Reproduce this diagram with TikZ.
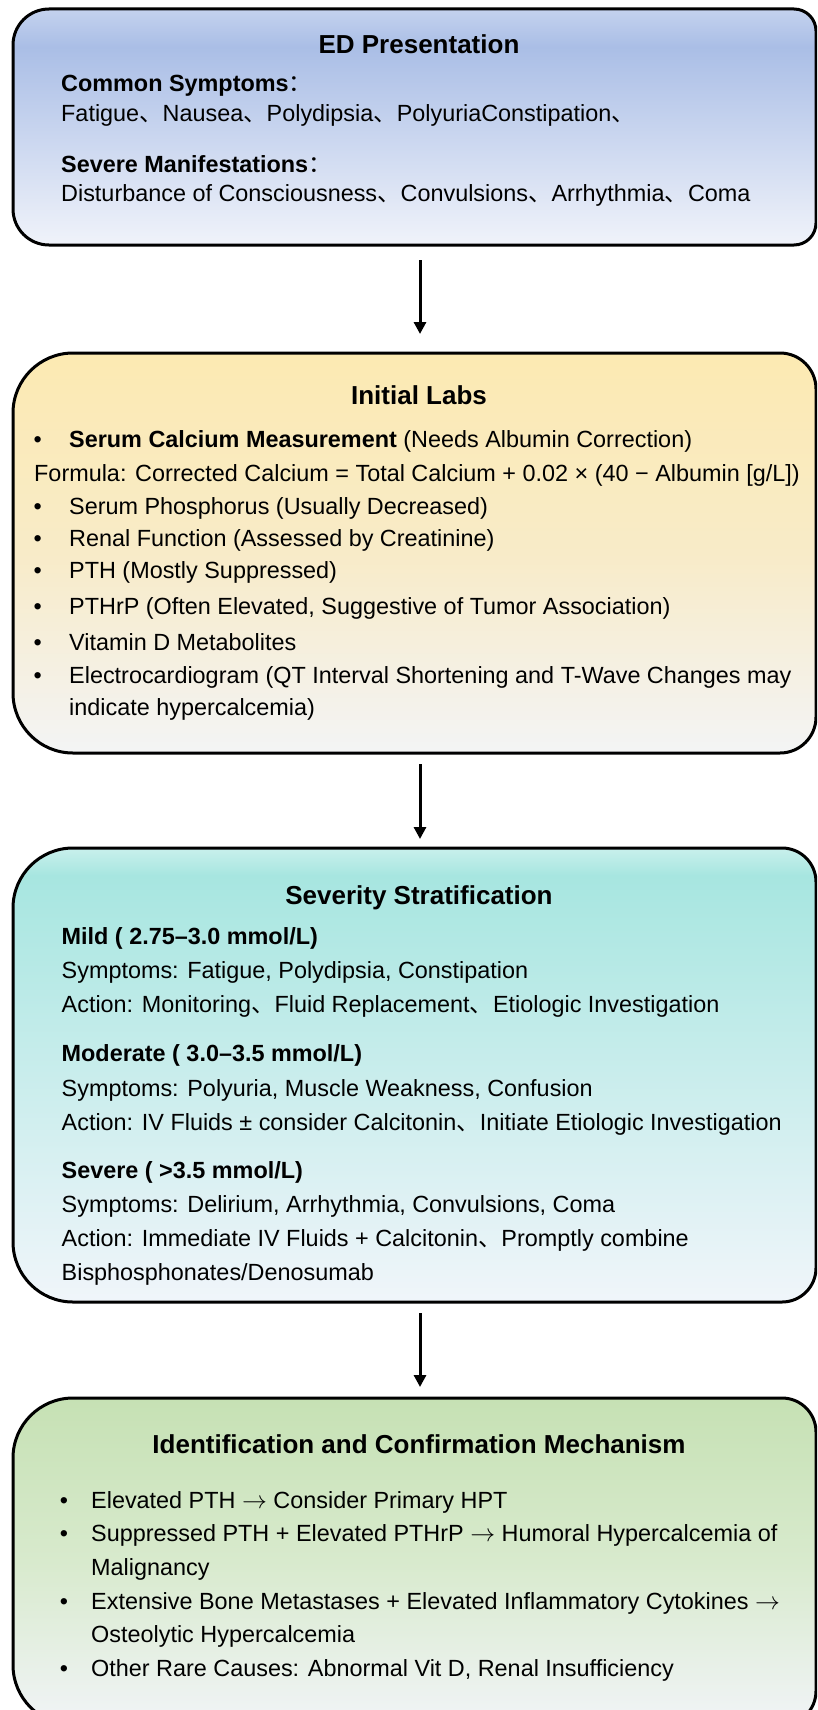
\documentclass[tikz,border=0pt]{standalone}
\usepackage{fontspec}
\setmainfont{Liberation Sans}
\newfontfamily\cjk{Noto Sans CJK SC}
\usetikzlibrary{arrows.meta}
\newcommand\dun{{\cjk\mdseries 、}}
\newcommand\fcolon{{\cjk\mdseries ：}}
\newcommand\rarr{$\rightarrow$}
\definecolor{aTop}{HTML}{C4D2EE}
\definecolor{aMid}{HTML}{AABEE6}
\definecolor{aBot}{HTML}{F0F3FA}
\definecolor{bTop}{HTML}{FCEAB2}
\definecolor{bMid}{HTML}{F8EBC8}
\definecolor{bBot}{HTML}{F3F4F5}
\definecolor{cTop}{HTML}{C9F0EC}
\definecolor{cMid}{HTML}{A7E6E0}
\definecolor{cBot}{HTML}{F0F5FA}
\definecolor{dTop}{HTML}{C6E1B4}
\definecolor{dMid}{HTML}{D8EACD}
\definecolor{dBot}{HTML}{F1F4F7}
\pgfdeclareverticalshading{shA}{100bp}{color(0bp)=(aBot); color(25bp)=(aBot); color(67bp)=(aMid); color(75bp)=(aTop); color(100bp)=(aTop)}
\pgfdeclareverticalshading{shB}{100bp}{color(0bp)=(bBot); color(25bp)=(bBot); color(50bp)=(bMid); color(75bp)=(bTop); color(100bp)=(bTop)}
\pgfdeclareverticalshading{shC}{100bp}{color(0bp)=(cBot); color(25bp)=(cBot); color(72bp)=(cMid); color(75bp)=(cTop); color(100bp)=(cTop)}
\pgfdeclareverticalshading{shD}{100bp}{color(0bp)=(dBot); color(25bp)=(dBot); color(50bp)=(dMid); color(75bp)=(dTop); color(100bp)=(dTop)}
% #1 L, #2 R, #3 T, #4 B, #5 left radius, #6 right radius, #7 shading
\newcommand\rbox[7]{%
  \draw[bx, shading=#7] ({#1+#5},{-#3}) -- ({#2-#6},{-#3})
    arc[start angle=90,end angle=0,radius=#6] -- ({#2},{-#4+#6})
    arc[start angle=0,end angle=-90,radius=#6] -- ({#1+#5},{-#4})
    arc[start angle=270,end angle=180,radius=#5] -- ({#1},{-#3-#5})
    arc[start angle=180,end angle=90,radius=#5] -- cycle;}
\tikzset{
  tx/.style={anchor=base west, inner sep=0pt, font=\fontsize{23.4}{27}\selectfont},
  ttl/.style={anchor=base, inner sep=0pt, font=\fontsize{26}{30}\selectfont\bfseries},
  bx/.style={line width=3pt, draw=black},
  arr/.style={line width=3pt, -{Triangle[length=12pt,width=12pt]}},
  frame/.style={inner sep=0pt, outer sep=0pt, minimum width=803pt}
}
\begin{document}
\begin{tikzpicture}[x=1pt,y=1pt]
\useasboundingbox (0,0) rectangle (817,-1710);
\clip (0,0) rectangle (817,-1710);
\fill[white] (0,0) rectangle (817,-1710);

% boxes
\rbox{13}{816}{9}{245}{36}{22}{shA}
\rbox{13}{816}{353}{753}{60}{36}{shB}
\rbox{13}{816}{848}{1302}{60}{34}{shC}
\rbox{13}{816}{1398}{1725}{60}{34}{shD}

\node[frame, minimum height=236pt] (b1) at (414.5,-127) {};
\node[frame, minimum height=400pt] (b2) at (414.5,-553) {};
\node[frame, minimum height=454pt] (b3) at (414.5,-1075) {};
\node[frame, minimum height=327pt] (b4) at (414.5,-1561.5) {};

% arrows
\draw[arr] ([xshift=5.5pt,yshift=-15pt]b1.south) -- ([xshift=5.5pt,yshift=19pt]b2.north);
\draw[arr] ([xshift=5.5pt,yshift=-11pt]b2.south) -- ([xshift=5.5pt,yshift=9pt]b3.north);
\draw[arr] ([xshift=5.5pt,yshift=-11pt]b3.south) -- ([xshift=5.5pt,yshift=11pt]b4.north);

% box 1
\node[ttl] (t1) at (419,-53) {ED Presentation};
\node[tx] (a1) at (61,-91) {\bfseries Common Symptoms\fcolon};
\node[tx] (a2) at (61,-121) {Fatigue\dun Nausea\dun Polydipsia\dun PolyuriaConstipation\dun};
\node[tx] (a3) at (61,-172) {\bfseries Severe Manifestations\fcolon};
\node[tx] (a4) at (61,-201) {Disturbance of Consciousness\dun Convulsions\dun Arrhythmia\dun Coma};

% box 2
\node[ttl] (t2) at (419,-404) {Initial Labs};
\node[tx] (p1) at (33.5,-447) {•};
\node[tx] (l1) at (69,-447) {\textbf{Serum Calcium Measurement} (Needs Albumin Correction)};
\node[tx] (l2) at (34,-481) {Formula: Corrected Calcium = Total Calcium + 0.02 × (40 − Albumin [g/L])};
\node[tx] (p3) at (33.5,-514) {•};
\node[tx] (l3) at (69,-514) {Serum Phosphorus (Usually Decreased)};
\node[tx] (p4) at (33.5,-546) {•};
\node[tx] (l4) at (69,-546) {Renal Function (Assessed by Creatinine)};
\node[tx] (p5) at (33.5,-578) {•};
\node[tx] (l5) at (69,-578) {PTH (Mostly Suppressed)};
\node[tx] (p6) at (33.5,-614) {•};
\node[tx] (l6) at (69,-614) {PTHrP (Often Elevated, Suggestive of Tumor Association)};
\node[tx] (p7) at (33.5,-650) {•};
\node[tx] (l7) at (69,-650) {Vitamin D Metabolites};
\node[tx] (p8) at (33.5,-683) {•};
\node[tx] (l8) at (69,-683) {Electrocardiogram (QT Interval Shortening and T-Wave Changes may};
\node[tx] (l9) at (69,-715) {indicate hypercalcemia)};

% box 3
\node[ttl] (t3) at (419,-904) {Severity Stratification};
\node[tx] (s1) at (61.5,-944) {\bfseries Mild ( 2.75–3.0 mmol/L)};
\node[tx] (s2) at (61.5,-978) {Symptoms: Fatigue, Polydipsia, Constipation};
\node[tx] (s3) at (61.5,-1012) {Action: Monitoring\dun Fluid Replacement\dun Etiologic Investigation};
\node[tx] (s4) at (61.5,-1061) {\bfseries Moderate ( 3.0–3.5 mmol/L)};
\node[tx] (s5) at (61.5,-1096) {Symptoms: Polyuria, Muscle Weakness, Confusion};
\node[tx] (s6) at (61.5,-1130) {Action: IV Fluids ± consider Calcitonin\dun Initiate Etiologic Investigation};
\node[tx] (s7) at (61.5,-1178) {\bfseries Severe ( >3.5 mmol/L)};
\node[tx] (s8) at (61.5,-1212) {Symptoms: Delirium, Arrhythmia, Convulsions, Coma};
\node[tx] (s9) at (61.5,-1246) {Action: Immediate IV Fluids + Calcitonin\dun Promptly combine};
\node[tx] (s10) at (61.5,-1280) {Bisphosphonates/Denosumab};

% box 4
\node[ttl] (t4) at (419,-1453) {Identification and Confirmation Mechanism};
\node[tx] (q1) at (59.6,-1508) {•};
\node[tx] (m1) at (91,-1508) {Elevated PTH \rarr\ Consider Primary HPT};
\node[tx] (q2) at (59.6,-1541) {•};
\node[tx] (m2) at (91,-1541) {Suppressed PTH + Elevated PTHrP \rarr\ Humoral Hypercalcemia of};
\node[tx] (m3) at (91,-1575) {Malignancy};
\node[tx] (q4) at (59.6,-1609) {•};
\node[tx] (m4) at (91,-1609) {Extensive Bone Metastases + Elevated Inflammatory Cytokines \rarr};
\node[tx] (m5) at (91,-1642) {Osteolytic Hypercalcemia};
\node[tx] (q6) at (59.6,-1676) {•};
\node[tx] (m6) at (91,-1676) {Other Rare Causes: Abnormal Vit D, Renal Insufficiency};
\end{tikzpicture}
\end{document}
